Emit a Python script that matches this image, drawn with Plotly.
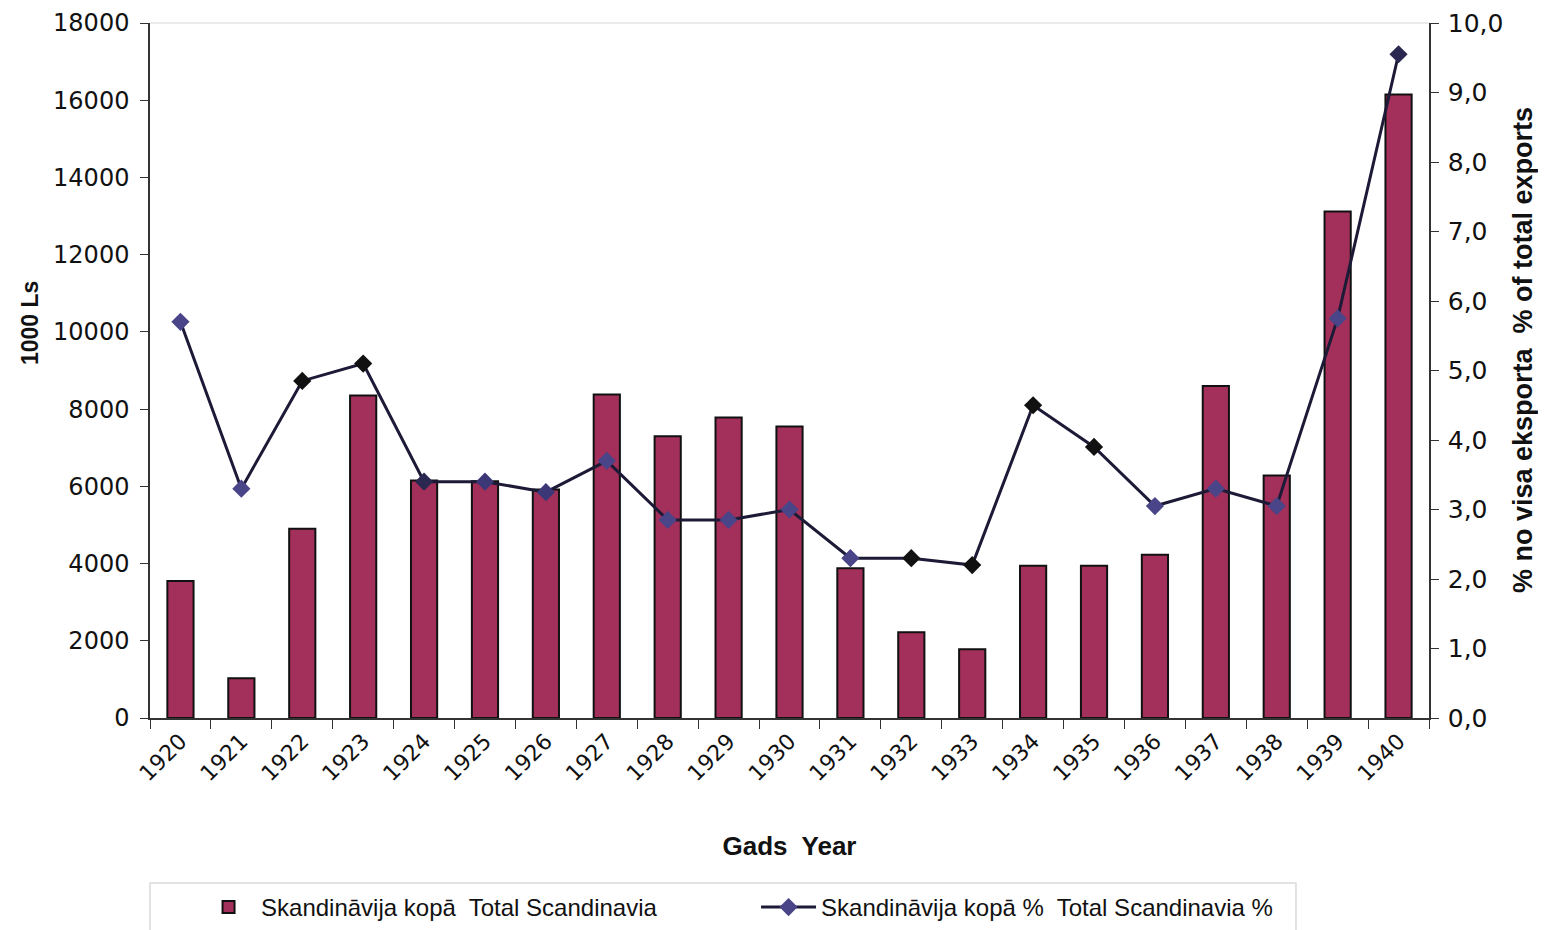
import plotly.graph_objects as go

# Eksports uz Skandināviju, 1920-1940
gadi = [str(g) for g in range(1920, 1941)]

# 1000 Ls
eksports = [3550, 1030, 4900, 8350, 6150, 6130, 5920, 8380, 7300, 7780, 7550,
            3880, 2220, 1780, 3940, 3940, 4230, 8600, 6280, 13120, 16150]

# % no visa eksporta
procenti = [5.7, 3.3, 4.85, 5.1, 3.4, 3.4, 3.25, 3.7, 2.85, 2.85, 3.0,
            2.3, 2.3, 2.2, 4.5, 3.9, 3.05, 3.3, 3.05, 5.75, 9.55]

# skenētā attēlā marķieri ir daļēji violeti, daļēji melni
marker_krasas = ["#4a4488", "#4a4488", "#111111", "#111111", "#2a2850", "#3c3878",
                 "#3c3878", "#4a4488", "#4a4488", "#4a4488", "#4a4488", "#4a4488",
                 "#111111", "#111111", "#111111", "#111111", "#4a4488", "#4a4488",
                 "#4a4488", "#4a4488", "#2a2850"]

TEKSTS = "Liberation Sans, Arial, sans-serif"
CIPARI = "DejaVu Sans, Verdana, sans-serif"

# lapai ir 8px atkāpe, tāpēc figūra ir mazliet mazāka par logu
W, H = 1530, 922
T, B = 15, 212
PH = H - T - B  # zīmēšanas laukuma augstums


def paper_y(fig_px):
    """pikseļu y (no figūras augšas) -> paper koordināta"""
    return (H - B - fig_px) / PH


fig = go.Figure()

fig.add_trace(go.Bar(
    x=gadi,
    y=eksports,
    name="Skandināvija kopā  Total Scandinavia",
    marker=dict(color="#A3305A", line=dict(color="#111111", width=2)),
    width=0.43,
))

fig.add_trace(go.Scatter(
    x=gadi,
    y=procenti,
    yaxis="y2",
    mode="lines+markers",
    name="Skandināvija kopā %  Total Scandinavia %",
    line=dict(color="#1c1a36", width=3),
    marker=dict(symbol="diamond", size=14, color=marker_krasas,
                line=dict(width=0)),
))

fig.update_layout(
    template="simple_white",
    width=W,
    height=H,
    margin=dict(l=142, r=109, t=T, b=B),
    plot_bgcolor="white",
    paper_bgcolor="white",
    separators=",.",
    font=dict(family=TEKSTS, color="#111111", size=20),
    showlegend=True,
    legend=dict(
        orientation="h",
        x=0.036, xanchor="left",
        yref="container",
        y=1 - 877 / H, yanchor="top",
        borderwidth=0,
        bgcolor="rgba(0,0,0,0)",
        font=dict(size=24, family=TEKSTS),
        entrywidth=490,
        itemwidth=55,
        traceorder="normal",
    ),
    xaxis=dict(
        type="category",
        range=[-0.5, 20.5],
        automargin=False,
        showline=True,
        linecolor="#333333",
        linewidth=1.5,
        ticks="outside",
        tickson="boundaries",
        ticklen=9,
        tickcolor="#333333",
        tickangle=-45,
        tickfont=dict(size=22, family=CIPARI),
        title=dict(text="<b>Gads  Year</b>", font=dict(size=26), standoff=52),
        showgrid=False,
    ),
    yaxis=dict(
        range=[0, 18000],
        tickvals=list(range(0, 18001, 2000)),
        tickformat="d",
        automargin=False,
        showgrid=False,
        zeroline=False,
        showline=True,
        linecolor="#333333",
        linewidth=1.5,
        ticks="outside",
        ticklen=8,
        tickcolor="#333333",
        ticklabelstandoff=6,
        ticklabeloverflow="allow",
        tickfont=dict(size=24, family=CIPARI),
    ),
    yaxis2=dict(
        range=[0, 10],
        tickvals=list(range(0, 11)),
        tickformat=".1f",
        overlaying="y",
        side="right",
        automargin=False,
        showgrid=False,
        zeroline=False,
        showline=True,
        linecolor="#333333",
        linewidth=1.5,
        ticks="outside",
        ticklen=8,
        tickcolor="#333333",
        ticklabelstandoff=4,
        ticklabeloverflow="allow",
        tickfont=dict(size=25, family=CIPARI),
    ),
)

# asu nosaukumi kā anotācijas, lai tos var novietot kā oriģinālā
fig.add_annotation(text="<b>1000 Ls</b>", textangle=-90,
                   xref="paper", yref="paper", x=-0.0938, y=paper_y(315),
                   xanchor="center", yanchor="middle",
                   showarrow=False, font=dict(size=23, family=TEKSTS))
fig.add_annotation(text="<b>% no visa eksporta  % of total exports</b>", textangle=-90,
                   xref="paper", yref="paper", x=1.0735, y=paper_y(342),
                   xanchor="center", yanchor="middle",
                   showarrow=False, font=dict(size=27, family=TEKSTS))

# augšējā rāmja līnija
fig.add_shape(type="line", xref="paper", yref="paper", x0=0, x1=1, y0=1, y1=1,
              line=dict(color="#aaaaaa", width=1.5))

# leģendas rāmis (apakšmala aiziet ārpus attēla)
fig.add_shape(type="rect", xref="paper", yref="paper",
              x0=0, x1=0.896, y0=paper_y(875), y1=paper_y(940),
              line=dict(color="#888888", width=1.5), fillcolor="rgba(0,0,0,0)")

fig.write_html("out.html")
